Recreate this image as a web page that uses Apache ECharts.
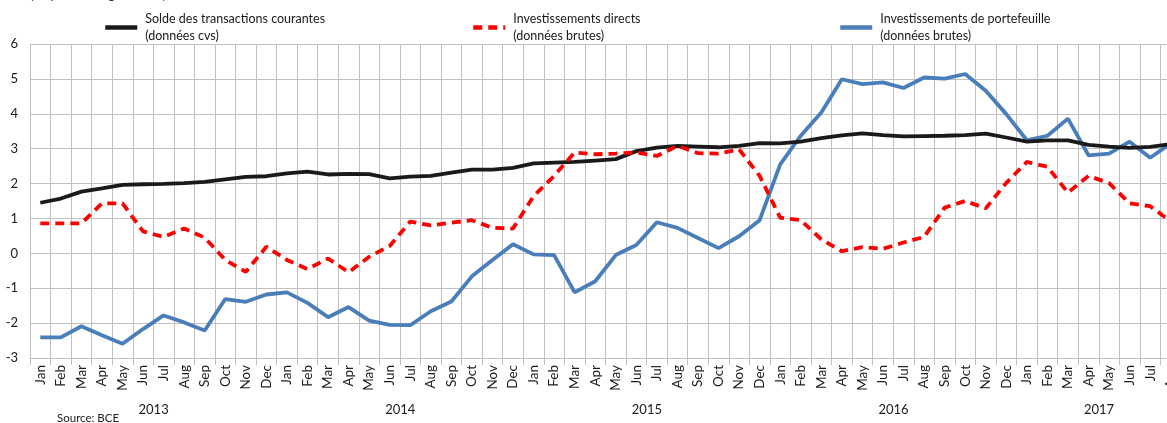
<!DOCTYPE html>
<html>
<head>
<meta charset="utf-8">
<script src="https://cdn.jsdelivr.net/npm/echarts@6/dist/echarts.min.js"></script>
<style>
  html, body { margin: 0; padding: 0; background: #fff; overflow: hidden; }
  /* the plot runs a little past the right edge of the window, as in the source */
  #main { width: 1181px; height: 423px; }
</style>
</head>
<body>
<div id="main"></div>
<script>
var monthNames = ['Jan', 'Feb', 'Mar', 'Apr', 'May', 'Jun', 'Jul', 'Aug', 'Sep', 'Oct', 'Nov', 'Dec'];
var years = ['2013', '2014', '2015', '2016', '2017'];
var monthsIn2017 = 8;

var solde = [
    1.45, 1.57, 1.77, 1.86, 1.96, 1.98, 1.99, 2.01, 2.05, 2.12, 2.19, 2.21,
    2.29, 2.34, 2.26, 2.28, 2.27, 2.15, 2.20, 2.22, 2.31, 2.40, 2.40, 2.45,
    2.58, 2.60, 2.62, 2.66, 2.70, 2.93, 3.03, 3.08, 3.06, 3.04, 3.08, 3.16,
    3.15, 3.20, 3.30, 3.38, 3.44, 3.39, 3.35, 3.36, 3.37, 3.39, 3.43, 3.32,
    3.20, 3.24, 3.24, 3.11, 3.06, 3.02, 3.05, 3.13
];
var directs = [
    0.86, 0.86, 0.86, 1.43, 1.43, 0.63, 0.47, 0.71, 0.45, -0.19, -0.53, 0.19,
    -0.19, -0.45, -0.15, -0.54, -0.10, 0.21, 0.91, 0.80, 0.88, 0.95, 0.73, 0.71,
    1.64, 2.22, 2.89, 2.84, 2.86, 2.89, 2.79, 3.08, 2.87, 2.86, 2.98, 2.22,
    1.02, 0.95, 0.40, 0.06, 0.18, 0.13, 0.31, 0.47, 1.31, 1.50, 1.29, 2.02,
    2.62, 2.48, 1.74, 2.22, 2.01, 1.43, 1.35, 0.92
];
var portefeuille = [
    -2.41, -2.41, -2.09, -2.35, -2.59, -2.17, -1.78, -1.98, -2.21, -1.31, -1.39, -1.18,
    -1.12, -1.42, -1.83, -1.54, -1.93, -2.05, -2.06, -1.66, -1.38, -0.66, -0.19, 0.26,
    -0.03, -0.05, -1.12, -0.80, -0.05, 0.24, 0.89, 0.73, 0.44, 0.15, 0.49, 0.95,
    2.55, 3.37, 4.04, 4.99, 4.85, 4.90, 4.74, 5.04, 5.01, 5.14, 4.66, 3.99,
    3.24, 3.37, 3.86, 2.81, 2.86, 3.20, 2.74, 3.15
];

var names = [
    'Solde des transactions courantes',
    'Investissements directs',
    'Investissements de portefeuille'
];
var subNames = ['(données cvs)', '(données brutes)', '(données brutes)'];

// month and year category lists
var months = [];
var yearOfMonth = [];
years.forEach(function (y, i) {
    var n = i === years.length - 1 ? monthsIn2017 : 12;
    for (var m = 0; m < n; m++) {
        months.push(monthNames[m]);
        yearOfMonth.push(y);
    }
});
// index where each year label sits (middle of its span)
var yearLabelIdx = {};
years.forEach(function (y, i) {
    var n = i === years.length - 1 ? monthsIn2017 : 12;
    yearLabelIdx[i * 12 + n / 2] = true;
});

var font = 'Lato, "Open Sans", sans-serif';
var gridColor = '#c0c0c0';

function legendFor(i, left) {
    return {
        data: [names[i]],
        left: left,
        top: 2,
        padding: 0,
        itemWidth: 32,
        itemHeight: 14,
        itemStyle: { opacity: 0 },
        lineStyle: { width: 4.5 },
        formatter: function (n) { return n + '\n' + subNames[i]; },
        textStyle: {
            fontFamily: font, fontSize: 12.5, color: '#1a1a1a',
            lineHeight: 17, padding: [17, 0, 0, 3]
        }
    };
}

var chart = echarts.init(document.getElementById('main'));
chart.setOption({
    animation: false,
    textStyle: { fontFamily: font },
    title: [{
        text: '(en pourcentage du PIB)',
        left: 30, top: -12, padding: 0,
        textStyle: { fontFamily: font, fontSize: 13, fontWeight: 'normal', color: '#222' }
    }, {
        text: 'Source: BCE',
        left: 57, top: 412, padding: 0,
        textStyle: { fontFamily: font, fontSize: 11.5, fontWeight: 'normal', color: '#222' }
    }],
    legend: [legendFor(0, 103), legendFor(1, 471), legendFor(2, 838)],
    grid: { left: 30, right: 0, top: 44, bottom: 65 },
    xAxis: [{
        type: 'category',
        data: months,
        boundaryGap: true,
        position: 'bottom',
        axisLine: { onZero: false, lineStyle: { color: gridColor } },
        axisTick: { show: true, interval: 0, length: 7, lineStyle: { color: gridColor } },
        axisLabel: {
            interval: 0, rotate: 90, margin: 7,
            fontFamily: font, fontSize: 13.5, color: '#1a1a1a'
        },
        splitLine: { show: true, interval: 0, lineStyle: { color: gridColor } }
    }, {
        type: 'category',
        data: yearOfMonth,
        boundaryGap: true,
        position: 'bottom',
        axisLine: { show: false },
        axisTick: {
            show: true, length: 62,
            interval: function (idx) { return idx % 12 === 0; },
            lineStyle: { color: gridColor }
        },
        axisLabel: {
            interval: function (idx) { return !!yearLabelIdx[idx]; },
            margin: 45,
            padding: [0, 20, 0, 0],
            fontFamily: font, fontSize: 13, color: '#1a1a1a'
        },
        splitLine: { show: false }
    }],
    yAxis: {
        type: 'value',
        min: -3, max: 6, interval: 1,
        axisLine: { show: true, lineStyle: { color: gridColor } },
        axisTick: { show: false },
        axisLabel: { fontFamily: font, fontSize: 13, color: '#1a1a1a', margin: 12 },
        splitLine: { lineStyle: { color: gridColor } }
    },
    series: [{
        name: names[0],
        type: 'line',
        data: solde,
        symbol: 'none',
        z: 3,
        itemStyle: { color: '#1a1a1a' },
        lineStyle: { color: '#1a1a1a', width: 3.8 }
    }, {
        name: names[1],
        type: 'line',
        data: directs,
        symbol: 'none',
        z: 4,
        itemStyle: { color: '#ff0000' },
        lineStyle: { color: '#ff0000', width: 3.8, type: [9, 6] }
    }, {
        name: names[2],
        type: 'line',
        data: portefeuille,
        symbol: 'none',
        z: 2,
        itemStyle: { color: '#4a7ebb' },
        lineStyle: { color: '#4a7ebb', width: 3.8 }
    }]
});
</script>
</body>
</html>
